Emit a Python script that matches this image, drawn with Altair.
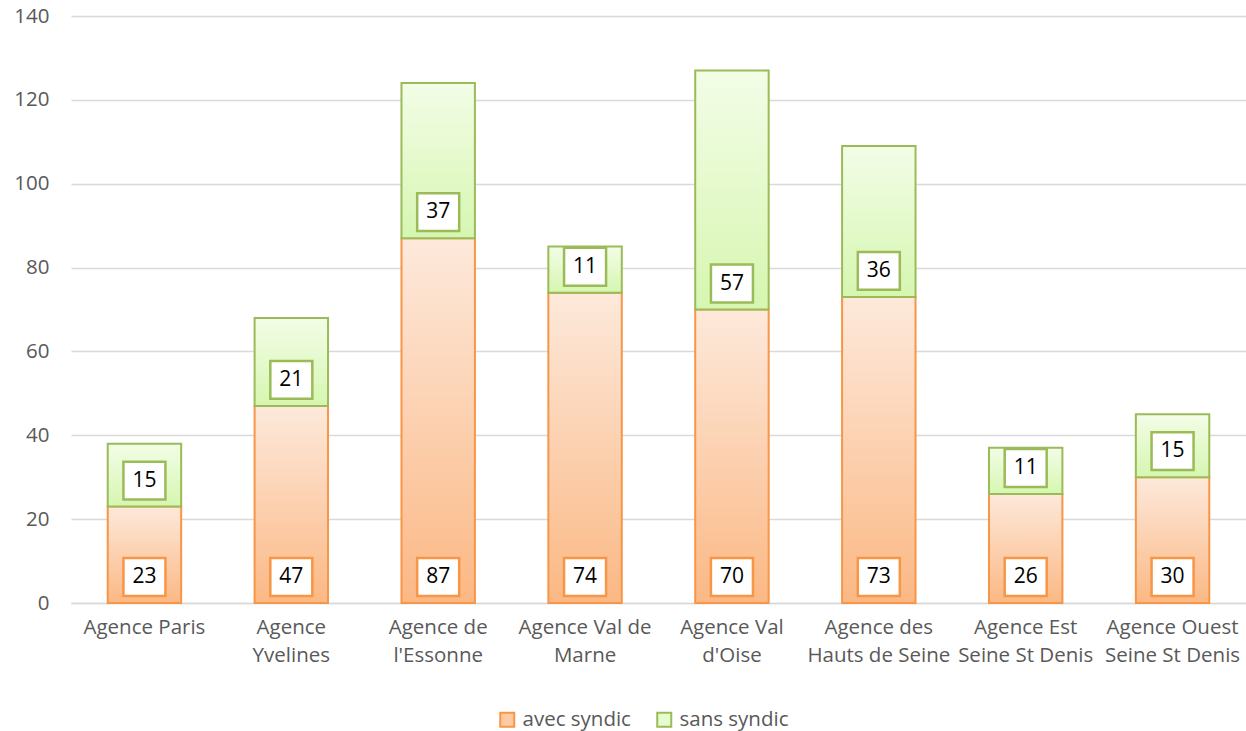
import altair as alt
import pandas as pd

categories = [
    "Agence Paris",
    "Agence\nYvelines",
    "Agence de\nl'Essonne",
    "Agence Val de\nMarne",
    "Agence Val\nd'Oise",
    "Agence des\nHauts de Seine",
    "Agence Est\nSeine St Denis",
    "Agence Ouest\nSeine St Denis",
]
avec_syndic = [23, 47, 87, 74, 70, 73, 26, 30]
sans_syndic = [15, 21, 37, 11, 57, 36, 11, 15]
series = ["avec syndic", "sans syndic"]
y_ticks = [0, 20, 40, 60, 80, 100, 120, 140]

FONT = "Open Sans"
ORANGE_EDGE = "#F79646"
GREEN_EDGE = "#9BBB59"

bars = pd.DataFrame({
    "cat": categories,
    "avec": avec_syndic,
    "sans": sans_syndic,
})
bars["total"] = bars["avec"] + bars["sans"]
bars["zero"] = 0

labels = pd.DataFrame({
    "cat": categories + categories,
    "series": [series[0]] * len(categories) + [series[1]] * len(categories),
    "value": avec_syndic + sans_syndic,
    "base": [0] * len(categories) + avec_syndic,
})

x_enc = alt.X("cat:N", sort=categories, title=None,
              scale=alt.Scale(paddingInner=0.5, paddingOuter=0.25),
              axis=alt.Axis(labelAngle=0, labelExpr="split(datum.label, '\\n')",
                            labelFont=FONT, labelFontSize=20.5, labelColor="#595959",
                            labelLineHeight=28, labelPadding=14, ticks=False,
                            domainColor="#D9D9D9", domainWidth=1.5, grid=False))
y_scale = alt.Scale(domain=[0, 140], nice=False)
y_axis = alt.Axis(values=y_ticks, labelFont=FONT, labelFontSize=20.5, labelColor="#595959",
                  labelPadding=22, ticks=False, domain=False,
                  gridColor="#D9D9D9", gridWidth=1.5)

orange_grad = alt.Gradient(gradient="linear", x1=0, y1=0, x2=0, y2=1, stops=[
    alt.GradientStop(color="#FDE9DB", offset=0),
    alt.GradientStop(color="#FBB884", offset=1),
])
green_grad = alt.Gradient(gradient="linear", x1=0, y1=0, x2=0, y2=1, stops=[
    alt.GradientStop(color="#F3FDE7", offset=0),
    alt.GradientStop(color="#D6F6B0", offset=1),
])

base = alt.Chart(bars)
x_plain = alt.X("cat:N", sort=categories)

orange_bars = base.mark_bar(fill=orange_grad, stroke=ORANGE_EDGE, strokeWidth=2).encode(
    x=x_enc,
    y=alt.Y("zero:Q", scale=y_scale, axis=y_axis, title=None),
    y2="avec:Q",
)
green_bars = base.mark_bar(fill=green_grad, stroke=GREEN_EDGE, strokeWidth=2).encode(
    x=x_plain,
    y=alt.Y("avec:Q"),
    y2="total:Q",
)

box_path = "M-1,-0.9H1V0.9H-1Z"
lab = alt.Chart(labels)


def boxes_for(name, edge):
    return lab.transform_filter(alt.datum.series == name).mark_point(
        shape=box_path, filled=True, fill="white", stroke=edge, size=1764,
        strokeWidth=2.5, yOffset=-26, opacity=1
    ).encode(x=x_plain, y=alt.Y("base:Q"))


boxes_avec = boxes_for(series[0], ORANGE_EDGE)
boxes_sans = boxes_for(series[1], GREEN_EDGE)

texts = lab.mark_text(font=FONT, fontSize=21, color="black", baseline="middle",
                      align="center", yOffset=-26).encode(
    x=x_plain,
    y=alt.Y("base:Q"),
    text="value:Q",
)

leg = alt.Legend(title=None, orient="none", direction="horizontal",
                 legendX=426, legendY=693, symbolType="square",
                 symbolSize=196, symbolOpacity=1, symbolStrokeWidth=2,
                 labelFont=FONT, labelFontSize=20.5, labelColor="#595959",
                 labelOffset=5, columnPadding=22)

legend_layer = lab.mark_point(shape="square", filled=True, opacity=0).encode(
    x=x_plain,
    y=alt.Y("base:Q"),
    color=alt.Color("series:N",
                    scale=alt.Scale(domain=series, range=["#FCCBA6", "#E7FAD0"]),
                    legend=leg),
    stroke=alt.Stroke("series:N",
                      scale=alt.Scale(domain=series, range=[ORANGE_EDGE, GREEN_EDGE]),
                      legend=leg),
)

chart = alt.layer(orange_bars, green_bars, boxes_avec, boxes_sans, texts, legend_layer).properties(
    width=1175, height=587,
    padding={"left": 71, "top": 16, "right": 0, "bottom": 128},
    autosize=alt.AutoSizeParams(type="none"),
).configure_view(stroke=None)

chart.save("out.html", embed_options={"renderer": "svg", "actions": False})
